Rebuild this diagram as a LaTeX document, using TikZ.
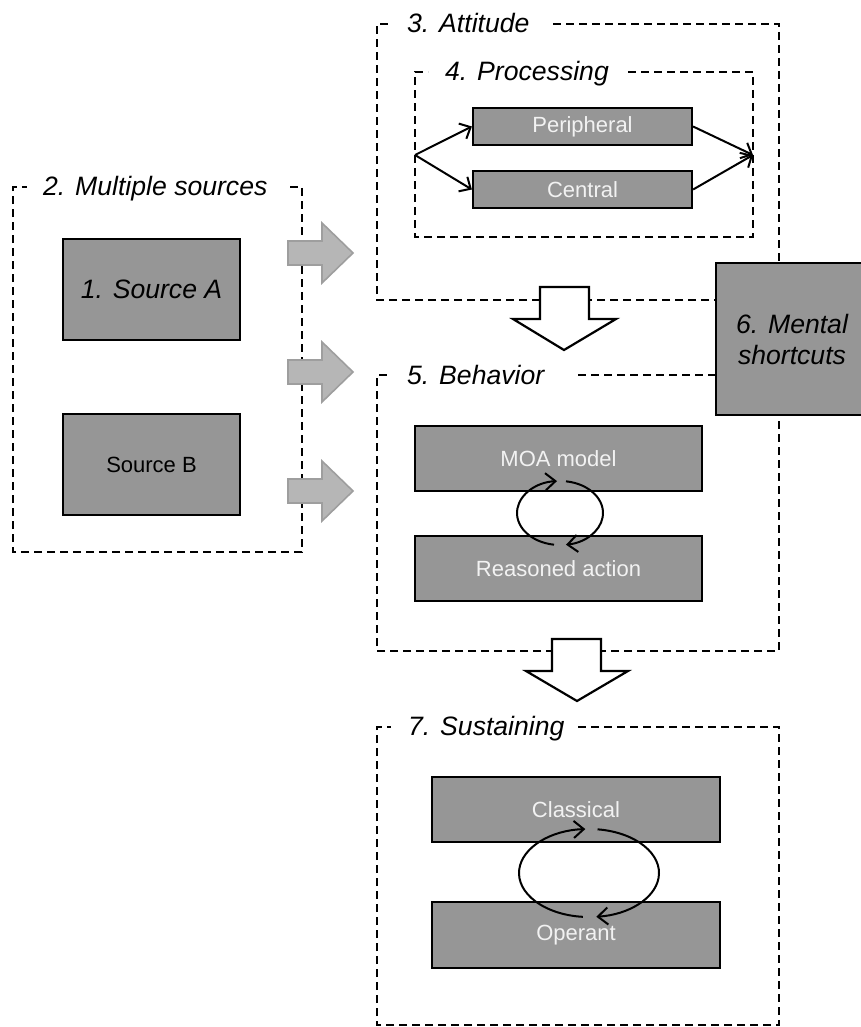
\documentclass[tikz,border=0pt]{standalone}
\usepackage{fontspec}
\setmainfont{Liberation Sans}
\usetikzlibrary{arrows.meta}
\definecolor{boxgray}{RGB}{150,150,150}
\definecolor{arrowfill}{RGB}{182,182,182}
\definecolor{arrowedge}{RGB}{158,158,158}
\definecolor{lighttext}{RGB}{242,242,242}
\newcommand{\bigtext}{\fontsize{26.6}{31}\selectfont}
\newcommand{\boxtext}{\fontsize{22}{26}\selectfont}

\begin{document}
\begin{tikzpicture}[x=1pt,y=-1pt,
  frame/.style={line width=1.9pt, dash pattern=on 8pt off 5pt},
  box/.style={draw=black, line width=2.2pt, fill=boxgray, inner sep=0pt},
  light/.style={box, text=lighttext, font=\boxtext},
  grouptitle/.style={anchor=base west, inner sep=0pt, font=\bigtext\itshape},
  link/.style={line width=2pt, -{Straight Barb[length=9pt,width=17pt,line width=2pt]}},
  cyclearc/.style={line width=2pt, -{Straight Barb[length=10pt,width=17pt,line width=2pt]}},
  flowarrow/.style={draw=black, fill=white, line width=2.2pt, line join=miter},
  feedarrow/.style={draw=arrowedge, fill=arrowfill, line width=1.6pt, line join=miter}
]
\useasboundingbox (0,0) rectangle (860,1027);

% dashed group frames, each open at the top for its title
\draw[frame] (290,187) -- (302,187) -- (302,552) -- (13,552) -- (13,187) -- (27,187);
\node[grouptitle] (t2) at (43,196) {2. Multiple sources};

\draw[frame] (553,24) -- (779,24) -- (779,300) -- (377,300) -- (377,24) -- (391,24);
\node[grouptitle] (t3) at (407,33) {3. Attitude};

\draw[frame] (628,72) -- (753,72) -- (753,237) -- (415,237) -- (415,72) -- (428,72);
\node[grouptitle] (t4) at (445,81) {4. Processing};

\draw[frame] (578,375) -- (779,375) -- (779,651) -- (377,651) -- (377,375) -- (391,375);
\node[grouptitle] (t5) at (407,384) {5. Behavior};

\draw[frame] (578,727) -- (779,727) -- (779,1025) -- (377,1025) -- (377,727) -- (391,727);
\node[grouptitle] (t7) at (408,735) {7. Sustaining};

% sources
\node[box, minimum width=177pt, minimum height=101pt, font=\bigtext\itshape] (srcA) at (151.5,289.5) {1. Source A};
\node[box, minimum width=177pt, minimum height=101pt, font=\boxtext] (srcB) at (151.5,464.5) {Source B};

% processing routes
\node[light, minimum width=219pt, minimum height=37pt] (peri) at (582.5,126.5) {Peripheral};
\node[light, minimum width=219pt, minimum height=37pt] (cent) at (582.5,189.5) {Central};
\coordinate (split) at (415,155);
\coordinate (merge) at (753,155);
\draw[link] (split) -- (peri.west);
\draw[link] (split) -- (cent.west);
\draw[link] (peri.east) -- (merge);
\draw[link] (cent.east) -- (merge);

% behavior models
\node[light, minimum width=287pt, minimum height=65pt] (moa) at (558.5,458.5) {MOA model};
\node[light, minimum width=287pt, minimum height=65pt] (reason) at (558.5,568.5) {Reasoned action};
\coordinate (loopB) at (560,513);
\draw[cyclearc] ([shift={(-82:43 and 32)}]loopB) arc[start angle=-82, end angle=82, x radius=43, y radius=32];
\draw[cyclearc] ([shift={(98:43 and 32)}]loopB) arc[start angle=98, end angle=266, x radius=43, y radius=32];

% sustaining mechanisms
\node[light, minimum width=288pt, minimum height=65pt] (classical) at (576,809.5) {Classical};
\node[light, minimum width=288pt, minimum height=66pt] (operant) at (576,935) {Operant};
\coordinate (loopS) at (589,873);
\draw[cyclearc] ([shift={(-83:70 and 44)}]loopS) arc[start angle=-83, end angle=84, x radius=70, y radius=44];
\draw[cyclearc] ([shift={(95:70 and 44)}]loopS) arc[start angle=95, end angle=267, x radius=70, y radius=44];

% mental shortcuts
\node[box, minimum width=152pt, minimum height=152pt, align=center, font=\bigtext\itshape] (mental) at (792,339) {6. Mental\\shortcuts};

% flow between stages
\draw[flowarrow] (540,287) -- (589,287) -- (589,319) -- (616,319) -- (564,350) -- (513,319) -- (540,319) -- cycle;
\draw[flowarrow] (552,639) -- (601,639) -- (601,671) -- (628,671) -- (577,701) -- (526,671) -- (552,671) -- cycle;

% sources feeding the stages
\foreach \yc in {253,372,491}
  \draw[feedarrow] (288,\yc-12) -- (322,\yc-12) -- (322,\yc-30) -- (353,\yc) -- (322,\yc+30) -- (322,\yc+12) -- (288,\yc+12) -- cycle;
\end{tikzpicture}
\end{document}
